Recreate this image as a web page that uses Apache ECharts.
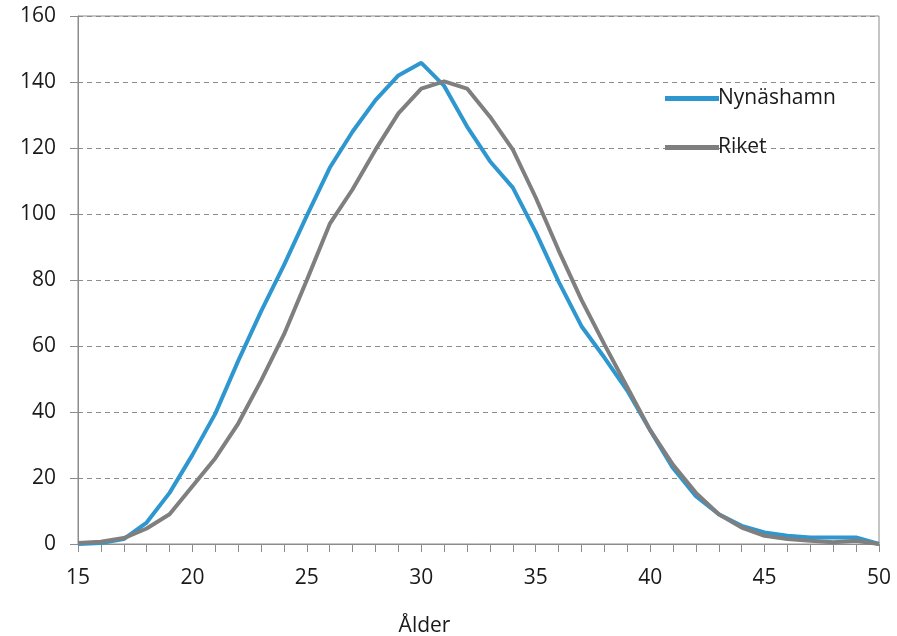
<!DOCTYPE html>
<html>
<head>
<meta charset="utf-8">
<script src="https://cdn.jsdelivr.net/npm/echarts@6/dist/echarts.min.js"></script>
<style>html,body{margin:0;padding:0;background:#fff}#c{width:897px;height:636px}</style>
</head>
<body>
<div id="c"></div>
<script>
var ages = [15,16,17,18,19,20,21,22,23,24,25,26,27,28,29,30,31,32,33,34,35,36,37,38,39,40,41,42,43,44,45,46,47,48,49,50];
var nynashamn = [0,0.3,1.5,6.5,15.5,27,39.5,55.5,70.5,84.5,99.5,114,125,134.5,142,145.8,138.8,126.5,116,108,94.5,79.5,66,56.5,46.5,34.5,23,14.5,9,5.5,3.5,2.5,2,2,2,0];
var riket = [0.3,0.7,1.8,4.7,9,17.5,26,36.5,49.5,63.5,80,97,107.5,119.5,130.5,138,140.2,138,129.5,119.5,105,89,74,60.5,47.5,34.5,24,15.5,9,5,2.5,1.5,1,0.5,1,0];
var yTicks = [0,20,40,60,80,100,120,140,160];

var chart = echarts.init(document.getElementById('c'));
var font = '"Open Sans", sans-serif';
chart.setOption({
  animation: false,
  grid: {left: 78, right: 18, top: 16, bottom: 92, show: true, borderColor: '#8c8c8c', borderWidth: 1,
         containLabel: false, outerBoundsMode: 'none'},
  legend: {
    orient: 'vertical', left: 660, top: 83, itemGap: 28,
    itemWidth: 54, itemHeight: 5,
    icon: 'rect',
    textStyle: {fontFamily: font, fontSize: 21, color: '#1a1a1a', padding: [0,0,0,-6]},
    data: ['Nynäshamn', 'Riket']
  },
  xAxis: {
    type: 'category', data: ages, boundaryGap: false,
    name: 'Ålder', nameLocation: 'middle', nameGap: 72,
    nameTextStyle: {fontFamily: font, fontSize: 21, color: '#1a1a1a', padding: [0, 108, 0, 0]},
    axisLine: {lineStyle: {color: '#8c8c8c', width: 1}},
    axisTick: {show: true, interval: 0, length: 8, lineStyle: {color: '#8c8c8c'}},
    axisLabel: {interval: 4, margin: 24, fontFamily: font, fontSize: 21, color: '#1a1a1a'},
    splitLine: {show: false}
  },
  yAxis: {
    type: 'value', min: yTicks[0], max: yTicks[yTicks.length-1], interval: 20,
    axisLine: {show: true, lineStyle: {color: '#8c8c8c', width: 1}},
    axisTick: {show: true, length: 8, lineStyle: {color: '#8c8c8c'}},
    axisLabel: {margin: 22, fontFamily: font, fontSize: 21, color: '#1a1a1a'},
    splitLine: {show: true, lineStyle: {color: '#8c8c8c', type: [5, 4], width: 1}}
  },
  series: [
    {name: 'Nynäshamn', type: 'line', data: nynashamn, showSymbol: false, symbol: 'none',
     lineStyle: {color: '#2e97d0', width: 4}, itemStyle: {color: '#2e97d0'}, z: 2},
    {name: 'Riket', type: 'line', data: riket, showSymbol: false, symbol: 'none',
     lineStyle: {color: '#7f7f7f', width: 4}, itemStyle: {color: '#7f7f7f'}, z: 3}
  ]
});
</script>
</body>
</html>
